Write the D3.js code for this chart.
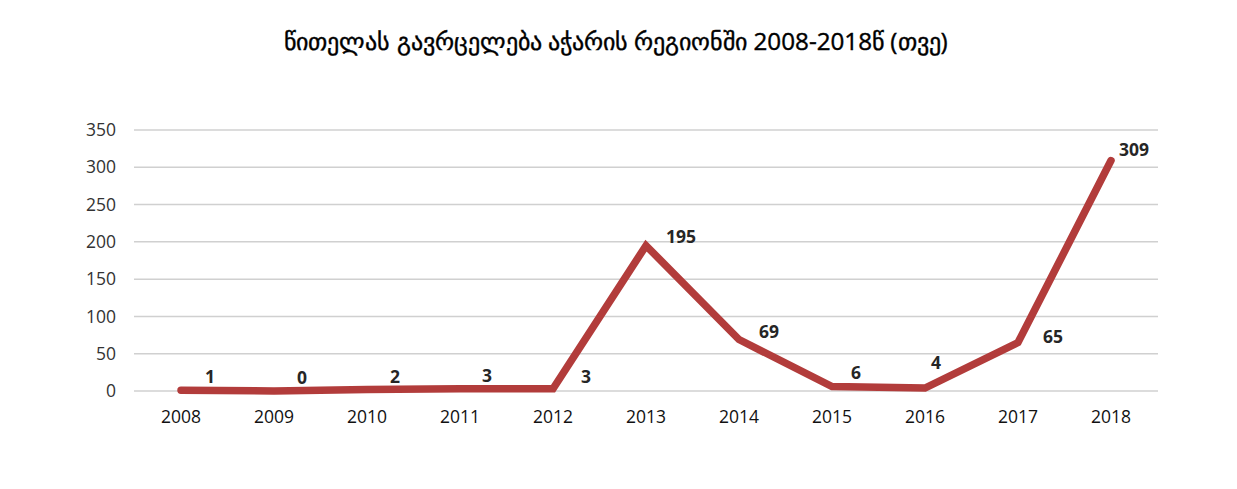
<!DOCTYPE html>
<html>
<head>
<meta charset="utf-8">
<script src="https://d3js.org/d3.v7.min.js"></script>
<style>
  body { margin: 0; background: #fff; }
  text { font-family: "Open Sans", sans-serif; }
</style>
</head>
<body>
<svg id="chart"></svg>
<script>
// Data
const years = ["2008", "2009", "2010", "2011", "2012", "2013", "2014", "2015", "2016", "2017", "2018"];
const cases = [1, 0, 2, 3, 3, 195, 69, 6, 4, 65, 309];
const yTicks = [0, 50, 100, 150, 200, 250, 300, 350];
const title = "წითელას გავრცელება აჭარის რეგიონში 2008-2018წ (თვე)";

// label nudges (dx, dy) relative to the point, as placed in the original
const labelShift = [[24, -13], [23, -13], [23, -13], [22, -13], [28, -12], [20, -9],
                    [20, -8], [19, -14], [6, -25], [25, -6], [8, -11]];

const width = 1237, height = 489;
const svg = d3.select("#chart").attr("width", width).attr("height", height);

const x = d3.scaleBand().domain(years).range([134.5, 1157.5]);
const y = d3.scaleLinear().domain([0, 350]).range([391, 130]);

// gridlines
svg.append("g")
  .selectAll("line")
  .data(yTicks)
  .join("line")
  .attr("x1", 134).attr("x2", 1158)
  .attr("y1", d => y(d)).attr("y2", d => y(d))
  .attr("stroke", "#d0d0d0")
  .attr("stroke-width", 1.5);

// y axis labels
const yAxis = svg.append("g")
  .attr("transform", "translate(116,0)")
  .call(d3.axisLeft(y).tickValues(yTicks).tickSize(0).tickPadding(0));
yAxis.select(".domain").remove();
yAxis.selectAll("text")
  .attr("font-family", "Open Sans, sans-serif")
  .attr("font-size", 17.5)
  .attr("fill", "#333");

// x axis labels
const xAxis = svg.append("g")
  .attr("transform", "translate(0,411)")
  .call(d3.axisBottom(x).tickSize(0).tickPadding(0));
xAxis.select(".domain").remove();
xAxis.selectAll("text")
  .attr("font-family", "Open Sans, sans-serif")
  .attr("font-size", 17.5)
  .attr("fill", "#111");

// line
const line = d3.line()
  .x((d, i) => x(years[i]) + x.bandwidth() / 2)
  .y(d => y(d));

svg.append("path")
  .datum(cases)
  .attr("d", line)
  .attr("fill", "none")
  .attr("stroke", "#b23c3b")
  .attr("stroke-width", 7.5)
  .attr("stroke-linecap", "round")
  .attr("stroke-linejoin", "miter")
  .attr("stroke-miterlimit", 3);

// data labels
svg.append("g")
  .selectAll("text")
  .data(cases)
  .join("text")
  .attr("x", (d, i) => x(years[i]) + x.bandwidth() / 2 + labelShift[i][0])
  .attr("y", (d, i) => y(d) + labelShift[i][1])
  .attr("dy", "0.35em")
  .attr("font-size", 17.5)
  .attr("font-weight", "bold")
  .attr("fill", "#262626")
  .text(d => d);

// title, sized to the original's width
const t = svg.append("text")
  .attr("x", 616)
  .attr("y", 50)
  .attr("text-anchor", "middle")
  .attr("font-family", "DejaVu Sans, sans-serif")
  .attr("font-size", 20)
  .attr("fill", "#000")
  .attr("stroke", "#000")
  .attr("stroke-width", 0.4)
  .text(title);
const tw = t.node().getComputedTextLength();
t.attr("font-size", 20 * 665 / tw);
</script>
</body>
</html>
